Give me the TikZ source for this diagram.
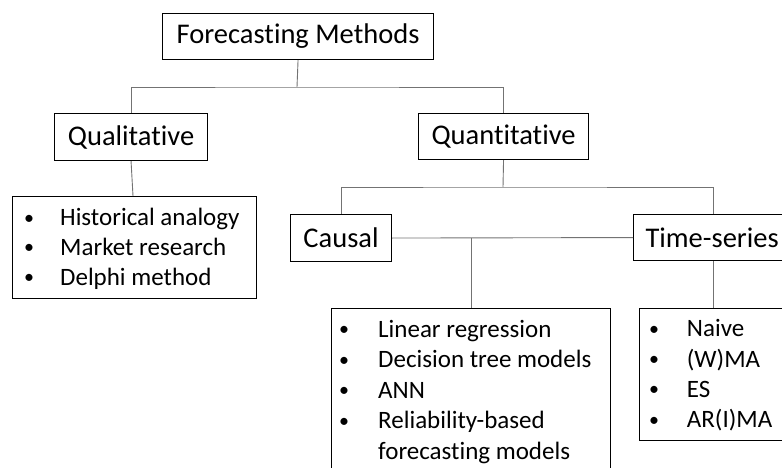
\documentclass[tikz,border=0pt]{standalone}
\usepackage{fontspec}
\setmainfont{Carlito}[Ligatures=NoCommon]
\usepackage{array}
% bullet centred in a 30pt slot, padded to the text column
\newcommand{\itembullet}[1]{\makebox[#1][l]{\makebox[30pt]{\raisebox{1.5pt}{\fontsize{20}{20}\selectfont\textbullet}}}}
\begin{document}
\begin{tikzpicture}[x=1pt,y=-1pt,
  head/.style={draw=black,line width=1.1pt,font=\fontsize{28.5}{32}\selectfont,
    inner sep=0pt,anchor=north west},
  listbox/.style={draw=black,line width=1.1pt,inner sep=0pt,anchor=north west},
  listtext/.style={inner sep=0pt,anchor=base west},
  link/.style={draw=black!55,line width=0.9pt}]
\useasboundingbox (0,0) rectangle (782,468);
\clip (0,0) rectangle (782,468);

% category boxes
\node[head,minimum width=271pt,minimum height=46pt] (fm) at (162,13) {Forecasting Methods};
\node[head,minimum width=153pt,minimum height=47pt] (ql) at (54,113) {Qualitative};
\node[head,minimum width=170pt,minimum height=46pt] (qn) at (418,113) {Quantitative};
\node[head,minimum width=101pt,minimum height=47pt] (ca) at (290,214) {Causal};
\node[head,minimum width=170pt,minimum height=46pt,text width=170pt,align=left] (ts) at (633,214) {\hspace*{12pt}Time-series};

% method list boxes
\node[listbox,minimum width=244pt,minimum height=102pt] (qlbox) at (12,196) {};
\node[listbox,minimum width=279pt,minimum height=180pt] (cabox) at (331,308) {};
\node[listbox,minimum width=160pt,minimum height=132pt] (tsbox) at (639,308) {};

\node[listtext] (qllist) at (14,225.7) {\fontsize{25}{29.7}\selectfont
  \begin{tabular}[t]{@{}l@{}l@{}}
  \itembullet{46pt} & Historical analogy\\
  \itembullet{46pt} & Market research\\
  \itembullet{46pt} & Delphi method
  \end{tabular}};
\node[listtext] (calist) at (329,337) {\fontsize{25}{30.5}\selectfont
  \begin{tabular}[t]{@{}l@{}l@{}}
  \itembullet{49pt} & Linear regression\\
  \itembullet{49pt} & Decision tree models\\
  \itembullet{49pt} & ANN\\
  \itembullet{49pt} & Reliability-based\\
   & forecasting models
  \end{tabular}};
\node[listtext] (tslist) at (639,336.7) {\fontsize{25}{30.3}\selectfont
  \begin{tabular}[t]{@{}l@{}l@{}}
  \itembullet{47.7pt} & Naive\\
  \itembullet{47.7pt} & (W)MA\\
  \itembullet{47.7pt} & ES\\
  \itembullet{47.7pt} & AR(I)MA
  \end{tabular}};

% tree connectors
\coordinate (j1) at (297,87);
\coordinate (j2) at (503,187);
\draw[link] (fm.south) -- (j1);
\draw[link] (ql.north) |- (j1) -| (qn.north);
\draw[link] (ql.south) -- (qlbox.north -| 133,0);
\draw[link] (qn.south) -- (j2);
\draw[link] (ca.north) |- (j2) -| (ts.north -| 713,0);
\draw[link] (ca.east) -- (ts.west);
\draw[link] (471,238) -- (cabox.north -| 471,0);
\draw[link] (ts.south -| 713,0) -- (tsbox.north -| 713,0);
\end{tikzpicture}
\end{document}
